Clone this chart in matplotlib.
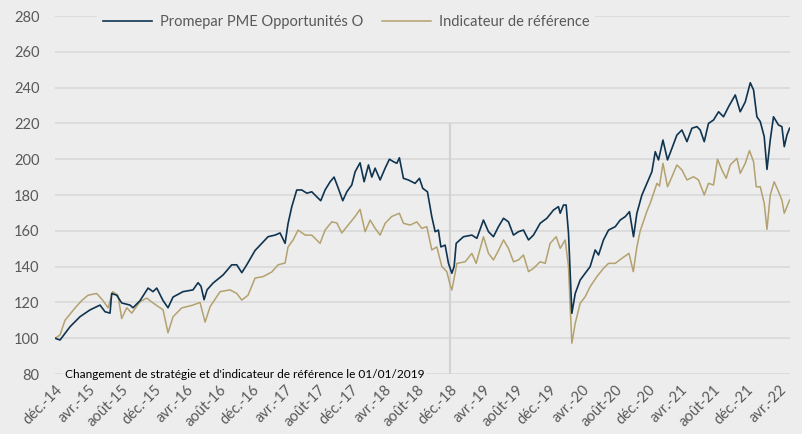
import matplotlib.pyplot as plt
import numpy as np

# Fund vs benchmark, base 100 at end of Dec 2014 (time in decimal years)
fund_label = 'Promepar PME Opportunités O'
bench_label = 'Indicateur de référence'

fund_t = [2015.000, 2015.051, 2015.152, 2015.253, 2015.354, 2015.456, 2015.506, 2015.557,
          2015.574, 2015.625, 2015.675, 2015.759, 2015.790, 2015.861, 2015.942, 2015.992,
          2016.030, 2016.094, 2016.144, 2016.195, 2016.296, 2016.397, 2016.448, 2016.478,
          2016.509, 2016.539, 2016.600, 2016.701, 2016.789, 2016.840, 2016.891, 2016.941,
          2017.025, 2017.093, 2017.157, 2017.228, 2017.278, 2017.329, 2017.359, 2017.397,
          2017.447, 2017.498, 2017.549, 2017.599, 2017.650, 2017.690, 2017.734, 2017.785,
          2017.825, 2017.866, 2017.913, 2017.954, 2018.004, 2018.038, 2018.088, 2018.129,
          2018.173, 2018.207, 2018.240, 2018.291, 2018.342, 2018.385, 2018.426, 2018.460,
          2018.486, 2018.527, 2018.577, 2018.645, 2018.689, 2018.723, 2018.770, 2018.814,
          2018.848, 2018.881, 2018.906, 2018.949, 2018.983, 2019.017, 2019.040, 2019.061,
          2019.135, 2019.220, 2019.270, 2019.337, 2019.388, 2019.438, 2019.489, 2019.540,
          2019.590, 2019.641, 2019.691, 2019.742, 2019.793, 2019.843, 2019.911, 2019.979,
          2020.046, 2020.096, 2020.114, 2020.147, 2020.174, 2020.198, 2020.215, 2020.232,
          2020.266, 2020.316, 2020.367, 2020.417, 2020.468, 2020.502, 2020.552, 2020.603,
          2020.671, 2020.721, 2020.772, 2020.815, 2020.856, 2020.890, 2020.941, 2020.992,
          2021.042, 2021.076, 2021.109, 2021.154, 2021.200, 2021.245, 2021.295, 2021.346,
          2021.397, 2021.447, 2021.498, 2021.531, 2021.572, 2021.615, 2021.666, 2021.717,
          2021.767, 2021.818, 2021.886, 2021.936, 2021.987, 2022.038, 2022.071, 2022.105,
          2022.139, 2022.179, 2022.207, 2022.240, 2022.273, 2022.324, 2022.358, 2022.382,
          2022.409, 2022.436]
fund_v = [100, 99, 106.4, 112, 115.8, 118.5, 114.8, 114,
          125, 124, 119.7, 118.5, 117, 121, 128, 126,
          128, 121, 117, 123, 126, 127, 131, 129,
          121.5, 127, 130.8, 135.3, 141, 141, 136.6, 141,
          149, 153, 156.7, 157.6, 158.8, 153, 164, 173.5,
          182.8, 182.8, 181, 181.8, 179, 176.8, 182.8, 187.4,
          190, 184, 176.8, 181.8, 185.6, 193, 198, 187.4,
          196.8, 190, 195, 188.4, 195, 200, 198.6, 197.7,
          200.8, 189.3, 188.4, 186.5, 189.3, 183.7, 181.8, 167.9,
          159.5, 160.4, 151, 152, 141.8, 136.3, 140, 153,
          156.7, 157.6, 155.8, 166, 159.5, 156.7, 162.3, 167,
          165, 157.6, 159.5, 160.4, 154.9, 157.6, 164.2, 167,
          171.6, 173.5, 169.8, 174.4, 174.4, 158.6, 136.3, 113.9,
          125, 132.5, 136.3, 140, 149.3, 146.5, 154.9, 160.4,
          162.3, 166, 167.9, 170.7, 156.7, 169.8, 180, 186.5,
          193, 204.2, 199.6, 210.7, 199.6, 206.1, 213.5, 216.3,
          209.8, 217.3, 218.2, 216.3, 209.8, 220, 221.9, 226.5,
          223.7, 229.3, 235.9, 226.5, 232, 242.7, 238.7, 223.7,
          221, 212.6, 194.3, 210.7, 223.7, 219.1, 218.2, 207,
          213.5, 217.3]

bench_t = [2015.000, 2015.051, 2015.101, 2015.203, 2015.270, 2015.334, 2015.422, 2015.486,
           2015.537, 2015.584, 2015.638, 2015.675, 2015.726, 2015.777, 2015.861, 2015.929,
           2015.992, 2016.094, 2016.144, 2016.195, 2016.283, 2016.397, 2016.468, 2016.519,
           2016.570, 2016.671, 2016.772, 2016.840, 2016.891, 2016.954, 2017.025, 2017.106,
           2017.194, 2017.258, 2017.329, 2017.359, 2017.410, 2017.461, 2017.532, 2017.599,
           2017.683, 2017.734, 2017.802, 2017.853, 2017.903, 2017.967, 2018.038, 2018.088,
           2018.139, 2018.190, 2018.240, 2018.291, 2018.342, 2018.409, 2018.486, 2018.527,
           2018.595, 2018.662, 2018.713, 2018.764, 2018.814, 2018.865, 2018.916, 2018.966,
           2019.000, 2019.017, 2019.050, 2019.068, 2019.152, 2019.220, 2019.263, 2019.337,
           2019.388, 2019.438, 2019.489, 2019.540, 2019.590, 2019.641, 2019.691, 2019.742,
           2019.793, 2019.843, 2019.911, 2019.962, 2020.012, 2020.073, 2020.114, 2020.164,
           2020.198, 2020.215, 2020.232, 2020.266, 2020.316, 2020.367, 2020.417, 2020.485,
           2020.552, 2020.603, 2020.671, 2020.738, 2020.810, 2020.854, 2020.890, 2020.924,
           2020.992, 2021.025, 2021.059, 2021.093, 2021.119, 2021.154, 2021.200, 2021.245,
           2021.295, 2021.346, 2021.397, 2021.463, 2021.514, 2021.572, 2021.615, 2021.666,
           2021.706, 2021.751, 2021.794, 2021.835, 2021.903, 2021.936, 2021.987, 2022.030,
           2022.071, 2022.098, 2022.139, 2022.179, 2022.207, 2022.240, 2022.280, 2022.324,
           2022.358, 2022.382, 2022.409, 2022.436]
bench_v = [100, 101.8, 110, 116.9, 121, 124, 125, 121,
           117, 126, 124, 111, 117, 114, 120.4, 122.4,
           119.7, 115.8, 103, 112, 116.9, 118.5, 120, 109,
           117.6, 126, 127, 125, 121.3, 124, 133.6, 134.4,
           137, 141, 142, 151, 154.9, 160.4, 157.6, 157.6,
           153, 160.4, 165, 164.4, 158.8, 163.2, 168, 172,
           159.5, 166, 161.4, 157.6, 164.2, 168, 169.8, 164.2,
           163.2, 165, 161.4, 162.3, 149.3, 151, 140, 137.2,
           129.7, 126.9, 136.3, 141.8, 142.7, 147.4, 141.8, 156.7,
           147.4, 143.7, 149, 154.9, 150.2, 142.7, 143.7, 146.5,
           137.2, 139, 142.7, 141.8, 153, 156.7, 150.2, 154.9,
           140, 117.6, 97.2, 108.3, 119.5, 123.2, 128.8, 134.4,
           139, 141.8, 141.8, 144.6, 147.4, 137.2, 151, 160,
           171, 175.4, 181, 186.5, 185, 197.7, 184.6, 190.2,
           196.8, 194, 188.4, 190.2, 188.4, 180, 186.5, 185.6,
           200, 194, 189.3, 196.8, 200.5, 192.1, 197.7, 204.8,
           198.6, 184.6, 184.6, 175.4, 160.8, 180, 187.4, 181.8,
           177.2, 169.8, 173.5, 177.2]

tick_labels = ['déc.-14', 'avr.-15', 'août-15', 'déc.-15', 'avr.-16', 'août-16',
               'déc.-16', 'avr.-17', 'août-17', 'déc.-17', 'avr.-18', 'août-18',
               'déc.-18', 'avr.-19', 'août-19', 'déc.-19', 'avr.-20', 'août-20',
               'déc.-20', 'avr.-21', 'août-21', 'déc.-21', 'avr.-22']
change_t = 2019.0
note = "Changement de stratégie et d'indicateur de référence le 01/01/2019"

BG = '#ededed'
NAVY = '#0f3450'
GOLD = '#b3a26f'
GREY_TXT = '#595959'

plt.rcParams['font.family'] = ['Lato', 'DejaVu Sans']

fig = plt.figure(figsize=(8.03, 4.34), dpi=100, facecolor=BG)
ax = fig.add_axes([55 / 803, 1 - 374 / 434, 735 / 803, 358 / 434])
ax.set_facecolor(BG)

ax.plot(bench_t, bench_v, color=GOLD, lw=1.1, label=bench_label, zorder=3)
ax.plot(fund_t, fund_v, color=NAVY, lw=1.2, label=fund_label, zorder=4)

# date of the strategy change
ax.vlines(change_t, 80, 220, color='#d2d2d2', lw=1.5, zorder=2)

ax.set_ylim(80, 280)
ax.set_xlim(2015.0, 2022.44)
ax.set_yticks(np.arange(80, 281, 20))
ax.set_xticks(2015.0 + np.arange(len(tick_labels)) * 4 / 12)
ax.set_xticklabels(tick_labels, rotation=45, ha='right', rotation_mode='anchor')
ax.yaxis.grid(True, color='#d9d9d9', lw=1.2)
ax.set_axisbelow(True)
for s in ax.spines.values():
    s.set_visible(False)
ax.tick_params(axis='both', length=0, labelsize=10.5, labelcolor=GREY_TXT)
ax.tick_params(axis='y', pad=11)
ax.tick_params(axis='x', pad=6)

ax.text(2015.10, 80, note, ha='left', va='center', fontsize=8.6, color='black',
        bbox=dict(facecolor=BG, edgecolor='none', pad=1), zorder=5)

handles, labels = ax.get_legend_handles_labels()
leg = ax.legend(handles[::-1], labels[::-1], loc='upper center', bbox_to_anchor=(0.396, 1.04),
                ncol=2, fontsize=10.5, frameon=True, facecolor=BG, edgecolor='none',
                framealpha=1, handlelength=3.4, handletextpad=0.5, columnspacing=1.3,
                labelcolor=GREY_TXT)

fig.savefig('out.png', dpi=100, facecolor=BG)
